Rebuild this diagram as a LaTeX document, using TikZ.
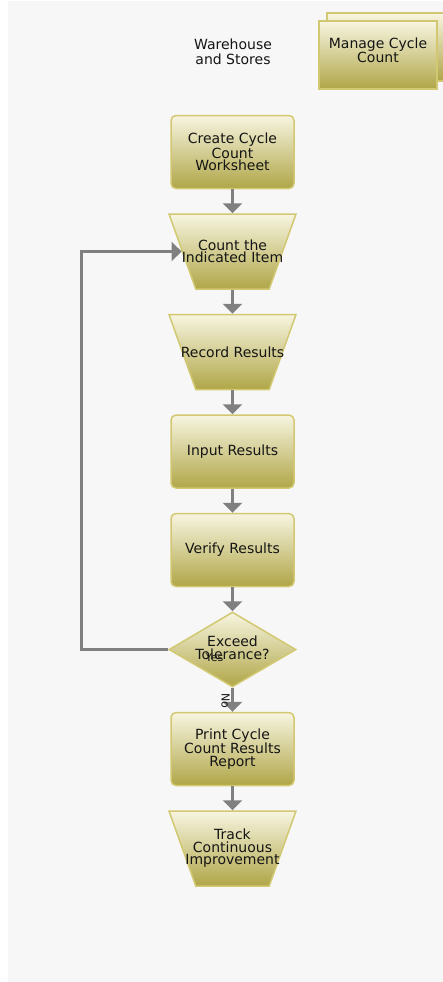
\documentclass[tikz,border=0pt]{standalone}
\usepackage{fontspec}
\setmainfont{DejaVu Sans}
\usetikzlibrary{
  arrows.meta,
  shapes.geometric,
  positioning
}
\definecolor{wsLight}{HTML}{F7F5E0}
\definecolor{wsMid}{HTML}{CEC686}
\definecolor{wsDark}{HTML}{B0A648}
\definecolor{wsEdge}{HTML}{D3C872}
\definecolor{wsFlow}{HTML}{808080}
\definecolor{wsBg}{HTML}{F7F7F7}
\definecolor{wsText}{HTML}{151515}
\tikzset{
  wsnode/.style={
    draw=wsEdge, line width=1.5pt, top color=wsLight, middle color=wsMid, bottom color=wsDark,
    text=wsText, font=\fontsize{14}{12.5}\selectfont, align=center, inner sep=2pt
  },
  wstext/.style={text=wsText, font=\fontsize{14}{12.5}\selectfont, align=center, inner sep=0pt},
  task/.style={wsnode, rounded corners=5pt, minimum width=123pt, minimum height=73pt},
  manual/.style={wsnode, trapezium, shape border rotate=180, trapezium angle=70,
    trapezium stretches=true, minimum width=127pt, minimum height=75pt},
  decision/.style={wsnode, diamond, aspect=1.69, inner sep=0pt, minimum width=127pt, minimum height=75pt},
  subproc/.style={wsnode, minimum width=118pt, minimum height=68pt},
  lane/.style={text=wsText, font=\fontsize{14}{14.5}\selectfont, align=center},
  flow/.style={-{Triangle[width=19pt, length=10pt]}, line width=2.5pt, wsFlow},
  tag/.style={text=wsText, font=\fontsize{11}{11}\selectfont, inner sep=0pt}
}
\begin{document}
\begin{tikzpicture}[x=1pt, y=-1pt, node distance=24pt]
  \useasboundingbox (0,0) rectangle (443,982);
  \fill[wsBg] (8,1) rectangle (443,982);
  \node[lane] (lane) at (233,52) {Warehouse\\and Stores};
  \node[subproc] (mccback) at (386,47) {};
  \node[subproc] (mcc) at (378,55) {};
  \node[wstext] (mcclabel) at ([yshift=5pt]mcc.center) {Manage Cycle\\Count};
  \node[task] (create) at (232.5,152) {Create Cycle\\Count\\Worksheet};
  \node[manual, below=of create, label={[wstext]center:Count the\\Indicated Item}] (count) {};
  \node[manual, below=of count, label={[wstext]center:Record Results}] (record) {};
  \node[task, below=of record] (input) {Input Results};
  \node[task, below=of input] (verify) {Verify Results};
  \node[decision, below=of verify, label={[wstext, yshift=2pt]center:Exceed\\Tolerance?}] (dec) {};
  \node[task, below=of dec] (print) {Print Cycle\\Count Results\\Report};
  \node[manual, below=of print, label={[wstext]center:Track\\Continuous\\Improvement}] (track) {};
  \draw[flow] (create) -- (count);
  \draw[flow] (count) -- (record);
  \draw[flow] (record) -- (input);
  \draw[flow] (input) -- (verify);
  \draw[flow] (verify) -- (dec);
  \draw[flow] (dec) -- (print);
  \draw[flow] (print) -- (track);
  \draw[flow] (dec.west) -- ++(-87,0) |- (count.west);
  \node[tag] (yes) at ([xshift=-18pt, yshift=-8pt]dec.center) {Yes};
  \node[tag, rotate=-90] (no) at ([xshift=-7pt, yshift=-13pt]dec.south) {No};
\end{tikzpicture}
\end{document}
